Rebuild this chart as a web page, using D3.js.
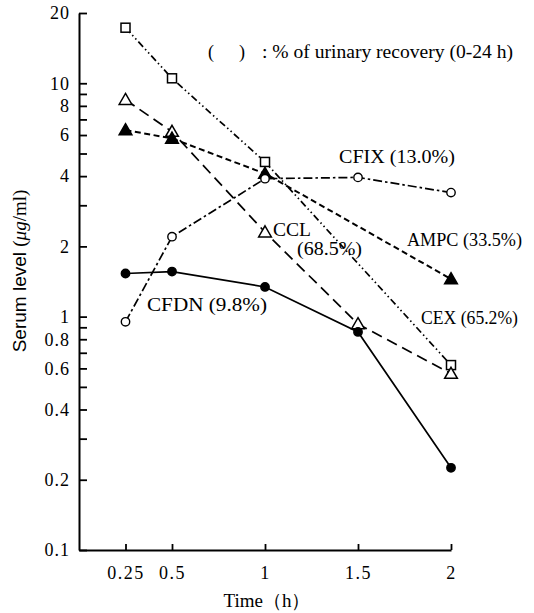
<!DOCTYPE html>
<html><head><meta charset="utf-8">
<script src="https://cdn.jsdelivr.net/npm/d3@7"></script>
<style>body{margin:0;background:#fff}svg{display:block}</style>
</head><body>
<svg id="c" width="534" height="613"></svg>
<script>
const times = [0.25, 0.5, 1, 1.5, 2];
const cexTimes = [0.25, 0.5, 1, 2];
const cexValues = [17.3, 10.5, 4.6, 0.62];
const cclTimes = [0.25, 0.5, 1, 1.5, 2];
const cclValues = [8.5, 6.2, 2.3, 0.93, 0.57];
const ampcTimes = [0.25, 0.5, 1, 2];
const ampcValues = [6.3, 5.8, 4.1, 1.45];
const cfixTimes = [0.25, 0.5, 1, 1.5, 2];
const cfixValues = [0.95, 2.2, 3.9, 3.95, 3.4];
const cfdnTimes = [0.25, 0.5, 1, 1.5, 2];
const cfdnValues = [1.53, 1.56, 1.34, 0.86, 0.225];
const xTickLabels = ["0.25", "0.5", "1", "1.5", "2"];
const yTicks = [0.1,0.2,0.3,0.4,0.5,0.6,0.7,0.8,0.9,1,2,3,4,5,6,7,8,9,10,20];
const yLabeled = [0.1,0.2,0.4,0.6,0.8,1,2,4,6,8,10,20];

const svg = d3.select("#c");
const x = d3.scaleLinear().domain([0, 2]).range([79, 451]);
const y = d3.scaleLog().domain([0.1, 20]).range([550, 13]);
const serif = "'Liberation Serif','Times New Roman',serif";

// axes
const yAxis = d3.axisLeft(y).tickValues(yTicks).tickSizeInner(-8).tickSizeOuter(0).tickPadding(9)
  .tickFormat(d => yLabeled.includes(d) ? String(d) : "");
const gy = svg.append("g").attr("transform", `translate(${x(0)},0)`).call(yAxis);
gy.select(".domain").attr("stroke-width", 2);
gy.selectAll(".tick line").attr("stroke-width", 1.8);
gy.selectAll("text").attr("font-family", serif).attr("font-size", 18).attr("letter-spacing", 1);

const xAxis = d3.axisBottom(x).tickValues(times).tickSizeInner(-6).tickSizeOuter(0).tickPadding(16)
  .tickFormat((d,i) => xTickLabels[i]);
const gx = svg.append("g").attr("transform", `translate(0,${y(0.1)})`).call(xAxis);
gx.select(".domain").attr("stroke-width", 2);
gx.selectAll(".tick line").attr("stroke-width", 1.8);
gx.selectAll("text").attr("font-family", serif).attr("font-size", 18).attr("letter-spacing", 1.5);

svg.append("text").attr("x", 267).attr("y", 607).attr("text-anchor", "middle")
  .attr("font-family", serif).attr("font-size", 19).text("Time（h）");

const yl = svg.append("text").attr("transform", "translate(26,271) rotate(-90)").attr("text-anchor", "middle")
  .attr("font-size", 19);
yl.append("tspan").attr("font-family", "'Liberation Sans',Arial,sans-serif").text("Serum level ");
yl.append("tspan").attr("font-family", serif).text("(");
yl.append("tspan").attr("font-family", serif).attr("font-style", "italic").text("μg");
yl.append("tspan").attr("font-family", serif).text("/ml)");

// series
const series = [
  {t: cexTimes, v: cexValues, dash: "7,3,1.5,3,1.5,3", marker: "square"},
  {t: cclTimes, v: cclValues, dash: "11,6", marker: "triangle"},
  {t: ampcTimes, v: ampcValues, dash: "6,3.5", marker: "triangleFilled"},
  {t: cfixTimes, v: cfixValues, dash: "9,3,2.5,3", marker: "circle"},
  {t: cfdnTimes, v: cfdnValues, dash: null, marker: "circleFilled"}
];
const line = d3.line().x(d => x(d[0])).y(d => y(d[1]));
series.forEach(s => {
  const pts = s.t.map((t,i) => [t, s.v[i]]);
  svg.append("path").datum(pts).attr("d", line).attr("fill", "none").attr("stroke", "#000")
    .attr("stroke-width", s.marker === "triangleFilled" ? 2 : 1.7)
    .attr("stroke-dasharray", s.dash);
});
series.forEach(s => {
  const pts = s.t.map((t,i) => [t, s.v[i]]);
  const g = svg.append("g");
  pts.forEach(p => {
    const cx = x(p[0]), cy = y(p[1]);
    if (s.marker === "square") {
      g.append("rect").attr("x", cx-4.5).attr("y", cy-4.5).attr("width", 9).attr("height", 9)
        .attr("fill", "#fff").attr("stroke", "#000").attr("stroke-width", 1.5);
    } else if (s.marker === "triangle" || s.marker === "triangleFilled") {
      const sym = d3.symbol().type(d3.symbolTriangle).size(70);
      g.append("path").attr("d", sym()).attr("transform", `translate(${cx},${cy+1})`)
        .attr("fill", s.marker === "triangle" ? "#fff" : "#000").attr("stroke", "#000").attr("stroke-width", 1.5);
    } else {
      g.append("circle").attr("cx", cx).attr("cy", cy).attr("r", 4.2)
        .attr("fill", s.marker === "circle" ? "#fff" : "#000").attr("stroke", "#000").attr("stroke-width", 1.4);
    }
  });
});

// labels
const labels = [
  {text: "(", x: 208, y: 58, size: 18, len: null},
  {text: ")", x: 239, y: 58, size: 18, len: null},
  {text: ": % of urinary recovery (0-24 h)", x: 262, y: 58, size: 18, len: 251},
  {text: "CFIX (13.0%)", x: 339, y: 163, size: 19, len: 116},
  {text: "AMPC (33.5%)", x: 407, y: 246, size: 19, len: 115},
  {text: "CCL", x: 273, y: 236, size: 19, len: 38},
  {text: "(68.5%)", x: 297, y: 255, size: 19, len: 65},
  {text: "CEX (65.2%)", x: 421, y: 324, size: 19, len: 97},
  {text: "CFDN (9.8%)", x: 147, y: 311, size: 19, len: 120}
];
labels.forEach(l => {
  const t = svg.append("text").attr("x", l.x).attr("y", l.y).attr("font-family", serif)
    .attr("font-size", l.size).text(l.text);
  if (l.len) t.attr("textLength", l.len).attr("lengthAdjust", "spacingAndGlyphs");
});
</script>
</body></html>
